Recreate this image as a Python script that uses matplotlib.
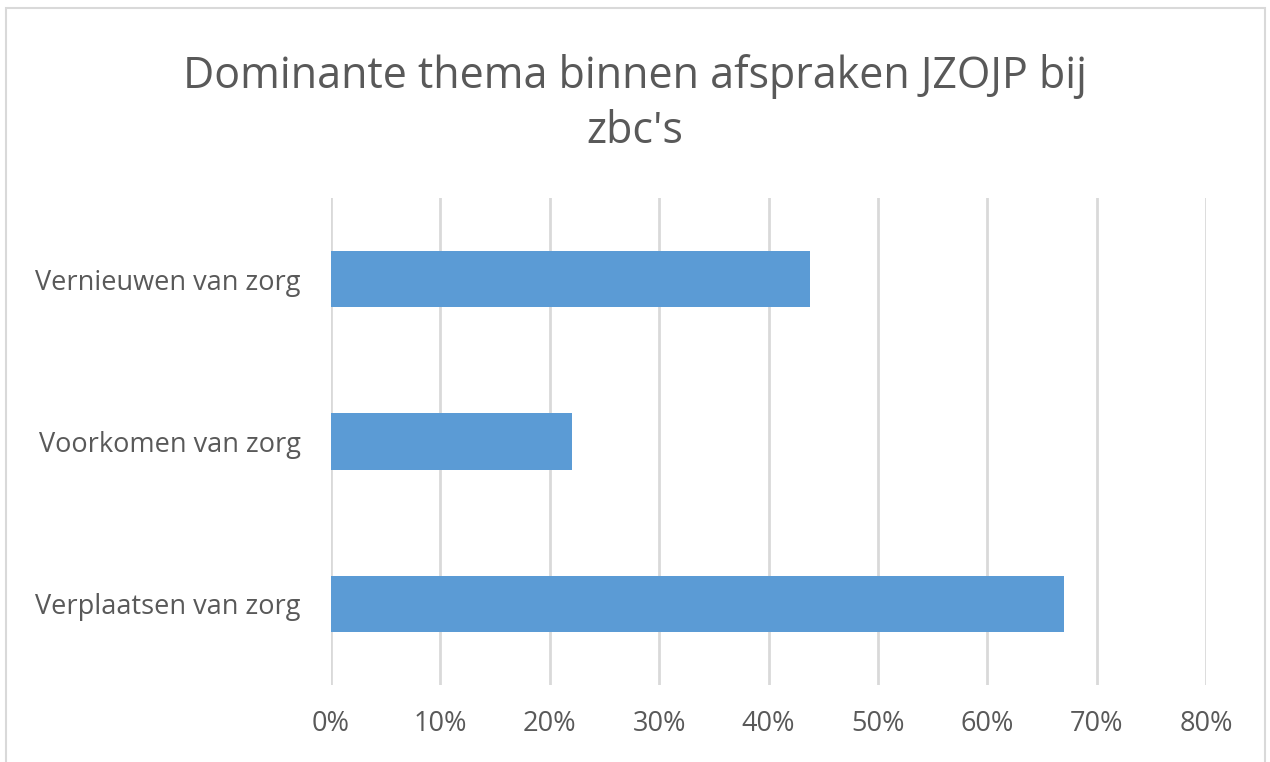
import matplotlib.pyplot as plt
import matplotlib.ticker as mtick
from matplotlib.patches import Rectangle

categories = ['Verplaatsen van zorg', 'Voorkomen van zorg', 'Vernieuwen van zorg']
shares = [0.67, 0.22, 0.438]
xticks = [0, 0.1, 0.2, 0.3, 0.4, 0.5, 0.6, 0.7, 0.8]
title = "Dominante thema binnen afspraken JZOJP bij\nzbc's"

plt.rcParams['font.family'] = ['Open Sans', 'DejaVu Sans']
text_color = '#595959'

fig = plt.figure(figsize=(12.7, 7.62), dpi=100)
ax = fig.add_axes([331 / 1270, 1 - 685 / 762, 875 / 1270, 487 / 762])

ax.barh(range(len(categories)), shares, height=0.345, color='#5B9BD5', zorder=3)
ax.set_xlim(0, 0.8)
ax.set_ylim(-0.5, len(categories) - 0.5)
ax.set_xticks(xticks)
ax.xaxis.set_major_formatter(mtick.PercentFormatter(1.0, decimals=0))
ax.set_yticks(range(len(categories)))
ax.set_yticklabels(categories)
ax.tick_params(axis='both', length=0, labelsize=19.5, colors=text_color)
ax.tick_params(axis='x', pad=18)
ax.tick_params(axis='y', pad=22)
ax.grid(axis='x', color='#d9d9d9', linewidth=2, zorder=0)
for s in ax.spines.values():
    s.set_visible(False)

fig.text(0.5, 1 - 104 / 762, title, ha='center', va='center', fontsize=31,
         color=text_color, linespacing=1.3)

fig.patches.append(Rectangle((6 / 1270, -0.05), 1259 / 1270, 1.05 - 8 / 762,
                             transform=fig.transFigure, fill=False,
                             edgecolor='#d9d9d9', linewidth=1.5))

fig.savefig('out.png', dpi=100)
